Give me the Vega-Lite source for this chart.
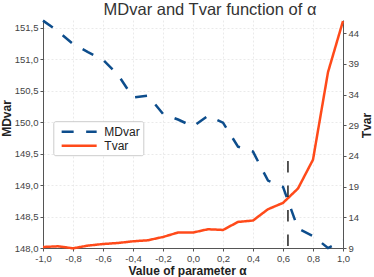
{
  "$schema": "https://vega.github.io/schema/vega-lite/v6.json",
  "width": 300,
  "height": 228,
  "autosize": "none",
  "padding": {"left": 43, "top": 20, "right": 31, "bottom": 29},
  "title": {
    "text": "MDvar and Tvar function of α",
    "font": "Liberation Sans",
    "fontSize": 16.5,
    "fontWeight": "normal",
    "color": "#333333",
    "anchor": "middle",
    "dx": 17,
    "dy": 4.5,
    "offset": 2
  },
  "config": {
    "locale": {
      "number": {"decimal": ",", "thousands": ".", "grouping": [3], "currency": ["", ""], "minus": "-"}
    },
    "view": {"stroke": null},
    "axis": {
      "labelFont": "Liberation Sans",
      "labelFontSize": 9.5,
      "labelColor": "#444444",
      "labelOverlap": false,
      "labelSeparation": 0,
      "labelFlush": false,
      "titleFont": "Liberation Sans",
      "titleFontSize": 12,
      "titleFontWeight": "bold",
      "titleColor": "#222222",
      "domainColor": "#555555",
      "tickColor": "#555555",
      "tickSize": 3,
      "labelPadding": 2,
      "gridColor": "#e4e4e4",
      "gridDash": [2, 2],
      "gridWidth": 0.8
    },
    "legend": {
      "orient": "none",
      "legendX": 10.3,
      "legendY": 101.2,
      "strokeColor": "#cccccc",
      "fillColor": "#ffffff",
      "padding": 3,
      "cornerRadius": 2,
      "symbolType": "M-0.367,0H5.615",
      "symbolSize": 137,
      "symbolStrokeWidth": 2.5,
      "labelFont": "Liberation Sans",
      "labelFontSize": 12,
      "labelColor": "#222222",
      "labelOffset": 33,
      "rowPadding": -3.4
    }
  },
  "datasets": {
    "md": [
      {"a": -1.0, "s": "MDvar", "v": 151.61},
      {"a": -0.9, "s": "MDvar", "v": 151.44},
      {"a": -0.8, "s": "MDvar", "v": 151.24},
      {"a": -0.7, "s": "MDvar", "v": 151.11},
      {"a": -0.6, "s": "MDvar", "v": 150.99},
      {"a": -0.5, "s": "MDvar", "v": 150.75},
      {"a": -0.4, "s": "MDvar", "v": 150.39},
      {"a": -0.3, "s": "MDvar", "v": 150.42},
      {"a": -0.2, "s": "MDvar", "v": 150.13},
      {"a": -0.1, "s": "MDvar", "v": 150.04},
      {"a": 0.0, "s": "MDvar", "v": 149.93},
      {"a": 0.1, "s": "MDvar", "v": 150.10},
      {"a": 0.2, "s": "MDvar", "v": 149.99},
      {"a": 0.3, "s": "MDvar", "v": 149.61},
      {"a": 0.4, "s": "MDvar", "v": 149.53},
      {"a": 0.5, "s": "MDvar", "v": 149.07},
      {"a": 0.6, "s": "MDvar", "v": 148.97},
      {"a": 0.7, "s": "MDvar", "v": 148.31},
      {"a": 0.8, "s": "MDvar", "v": 148.19},
      {"a": 0.9, "s": "MDvar", "v": 148.0},
      {"a": 1.0, "s": "MDvar", "v": 148.12}
    ],
    "tv": [
      {"a": -1.0, "s": "Tvar", "v": 9.16},
      {"a": -0.9, "s": "Tvar", "v": 9.28},
      {"a": -0.8, "s": "Tvar", "v": 8.95},
      {"a": -0.7, "s": "Tvar", "v": 9.39},
      {"a": -0.6, "s": "Tvar", "v": 9.65},
      {"a": -0.5, "s": "Tvar", "v": 9.82},
      {"a": -0.4, "s": "Tvar", "v": 10.09},
      {"a": -0.3, "s": "Tvar", "v": 10.26},
      {"a": -0.2, "s": "Tvar", "v": 10.8},
      {"a": -0.1, "s": "Tvar", "v": 11.52},
      {"a": 0.0, "s": "Tvar", "v": 11.52},
      {"a": 0.1, "s": "Tvar", "v": 12.06},
      {"a": 0.2, "s": "Tvar", "v": 11.94},
      {"a": 0.3, "s": "Tvar", "v": 13.25},
      {"a": 0.4, "s": "Tvar", "v": 13.48},
      {"a": 0.5, "s": "Tvar", "v": 15.32},
      {"a": 0.6, "s": "Tvar", "v": 16.35},
      {"a": 0.7, "s": "Tvar", "v": 18.7},
      {"a": 0.8, "s": "Tvar", "v": 23.4},
      {"a": 0.9, "s": "Tvar", "v": 37.66},
      {"a": 1.0, "s": "Tvar", "v": 46.0}
    ],
    "cut": [
      {"a": 0.633, "v": 23.17, "b": 9}
    ]
  },
  "layer": [
    {
      "data": {"name": "md"},
      "mark": {"type": "line", "strokeWidth": 2.5, "clip": false},
      "encoding": {
        "x": {
          "field": "a", "type": "quantitative",
          "scale": {"domain": [-1, 1], "nice": false, "zero": false},
          "axis": {
            "title": "Value of parameter α",
            "values": [-1, -0.8, -0.6, -0.4, -0.2, 0, 0.2, 0.4, 0.6, 0.8, 1],
            "format": ".1f",
            "grid": true,
            "labelOverlap": false,
            "labelFlush": false,
            "titlePadding": 3,
            "titleX": 144
          }
        },
        "y": {
          "field": "v", "type": "quantitative",
          "scale": {"domain": [148, 151.62], "nice": false, "zero": false},
          "axis": {
            "title": "MDvar",
            "orient": "left",
            "values": [148, 148.5, 149, 149.5, 150, 150.5, 151, 151.5],
            "format": ".1f",
            "grid": true,
            "labelOverlap": false,
            "labelFlush": false,
            "titlePadding": 1,
            "titleY": 98
          }
        },
        "color": {
          "field": "s", "type": "nominal",
          "scale": {"domain": ["MDvar", "Tvar"], "range": ["#0d4d8c", "#ff4a1a"]},
          "legend": {"title": null}
        },
        "strokeDash": {
          "field": "s", "type": "nominal",
          "scale": {"domain": ["MDvar", "Tvar"], "range": [[12, 12.5], [1, 0]]},
          "legend": {"title": null}
        }
      }
    },
    {
      "data": {"name": "tv"},
      "mark": {"type": "line", "strokeWidth": 2.5, "clip": false},
      "encoding": {
        "x": {
          "field": "a", "type": "quantitative",
          "scale": {"domain": [-1, 1], "nice": false, "zero": false},
          "axis": {
            "title": "Value of parameter α",
            "values": [-1, -0.8, -0.6, -0.4, -0.2, 0, 0.2, 0.4, 0.6, 0.8, 1],
            "format": ".1f",
            "grid": true,
            "labelOverlap": false,
            "labelFlush": false,
            "titlePadding": 3,
            "titleX": 144
          }
        },
        "y": {
          "field": "v", "type": "quantitative",
          "scale": {"domain": [9, 46.17], "nice": false, "zero": false},
          "axis": {
            "title": "Tvar",
            "orient": "right",
            "values": [9, 14, 19, 24, 29, 34, 39, 44],
            "format": "d",
            "grid": false,
            "labelOverlap": false,
            "labelFlush": false,
            "titleAngle": 270,
            "titleBaseline": "alphabetic",
            "titleX": 27,
            "titleY": 105
          }
        },
        "color": {"field": "s", "type": "nominal", "legend": {"title": null}},
        "strokeDash": {"field": "s", "type": "nominal", "legend": {"title": null}}
      }
    },
    {
      "data": {"name": "cut"},
      "mark": {"type": "rule", "strokeDash": [11.5, 13], "strokeWidth": 1.5, "color": "#222222"},
      "encoding": {
        "x": {
          "field": "a", "type": "quantitative",
          "scale": {"domain": [-1, 1], "nice": false, "zero": false},
          "axis": {
            "title": "Value of parameter α",
            "values": [-1, -0.8, -0.6, -0.4, -0.2, 0, 0.2, 0.4, 0.6, 0.8, 1],
            "format": ".1f",
            "grid": true,
            "labelOverlap": false,
            "labelFlush": false,
            "titlePadding": 3,
            "titleX": 144
          }
        },
        "y": {
          "field": "v", "type": "quantitative",
          "scale": {"domain": [9, 46.17], "nice": false, "zero": false},
          "axis": null
        },
        "y2": {"field": "b"}
      }
    }
  ],
  "resolve": {"scale": {"y": "independent"}}
}
